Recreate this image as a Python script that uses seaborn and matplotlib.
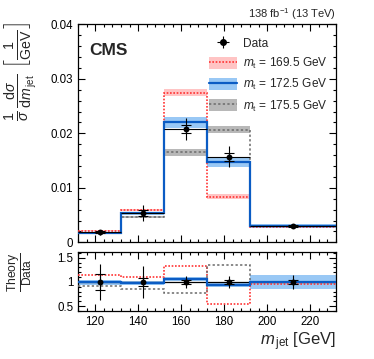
import numpy as np
import pandas as pd
import matplotlib
matplotlib.use("Agg")
import matplotlib.pyplot as plt
from matplotlib.patches import Patch
from matplotlib.lines import Line2D
from matplotlib.ticker import MultipleLocator
import seaborn as sns

# ---------------- data ----------------
edges = [112, 132, 152, 172, 192, 232]
data_vals = [0.00185, 0.0054, 0.0208, 0.0157, 0.0030]
data_err_tot = [0.0005, 0.0015, 0.0020, 0.0019, 0.0004]
data_err_stat = [0.0002, 0.0005, 0.0008, 0.0007, 0.0001]

mt169 = [0.0021, 0.0059, 0.0275, 0.0084, 0.0029]
mt169_unc = [0.0001, 0.0002, 0.0006, 0.0005, 0.0001]
mt172 = [0.0018, 0.0053, 0.0220, 0.0147, 0.0030]
mt172_unc = [0.0001, 0.0003, 0.0010, 0.0008, 0.0004]
mt175 = [0.0017, 0.0047, 0.0165, 0.0207, 0.0030]
mt175_unc = [0.0001, 0.0002, 0.0006, 0.0007, 0.0002]

ratio169 = [1.15, 1.11, 1.34, 0.55, 0.96]
ratio172 = [0.99, 0.97, 1.06, 0.945, 1.00]
ratio172_unc = [0.05, 0.04, 0.05, 0.05, 0.14]
ratio175 = [0.92, 0.86, 0.78, 1.36, 0.995]
ratio_data = [1.0, 1.0, 1.0, 1.0, 1.0]
ratio_err_tot = [0.37, 0.33, 0.12, 0.13, 0.14]
ratio_err_stat = [0.16, 0.09, 0.04, 0.04, 0.04]

labels = ["Data", r"$m_\mathrm{t}$ = 169.5 GeV", r"$m_\mathrm{t}$ = 172.5 GeV",
          r"$m_\mathrm{t}$ = 175.5 GeV"]

# ---------------- style ----------------
sns.set_theme(style="ticks")
plt.rcParams['font.family'] = ['Liberation Sans', 'DejaVu Sans']
plt.rcParams['mathtext.fontset'] = 'custom'
plt.rcParams['mathtext.rm'] = 'Liberation Sans'
plt.rcParams['mathtext.it'] = 'Liberation Sans:italic'
plt.rcParams['mathtext.bf'] = 'Liberation Sans:bold'
plt.rcParams['axes.linewidth'] = 0.9

RED, RED_B = '#ff3333', '#ffc4c4'
BLUE, BLUE_B = '#0b5cc4', '#99c8f5'
GRAY, GRAY_B = '#6a6a6a', '#b8b8b8'

edges_a = np.array(edges, dtype=float)
centers = 0.5 * (edges_a[:-1] + edges_a[1:])
halfw = 0.5 * np.diff(edges_a)

fig = plt.figure(figsize=(3.74, 3.59), dpi=100)
ax = fig.add_axes([0.2086, 0.325, 0.6898, 0.607])
rax = fig.add_axes([0.2086, 0.134, 0.6898, 0.164], sharex=ax)


def band(a, vals, unc, color):
    v = np.array(vals); u = np.array(unc)
    a.stairs(v + u, edges_a, baseline=v - u, fill=True, color=color, lw=0, zorder=1)


# main panel bands
band(ax, mt169, mt169_unc, RED_B)
band(ax, mt175, mt175_unc, GRAY_B)
band(ax, mt172, mt172_unc, BLUE_B)
ax.stairs(mt169, edges_a, baseline=None, color=RED, lw=1.2, ls=(0, (1, 1)), zorder=3)
ax.stairs(mt175, edges_a, baseline=None, color=GRAY, lw=1.1, ls=(0, (1.5, 1.5)), zorder=3)
ax.stairs(mt172, edges_a, baseline=None, color=BLUE, lw=1.6, zorder=4)

# data
df = pd.DataFrame({'x': centers, 'y': data_vals})
ax.errorbar(centers, data_vals, yerr=data_err_tot, xerr=halfw, fmt='none',
            ecolor='black', elinewidth=0.8, zorder=5)
ax.errorbar(centers, data_vals, yerr=data_err_stat, fmt='none', ecolor='black',
            elinewidth=0.8, capsize=3.5, capthick=0.8, zorder=5)
sns.scatterplot(data=df, x='x', y='y', ax=ax, color='black', s=18, zorder=6,
                edgecolor='black', linewidth=0, legend=False)

ax.set_xlim(edges[0], edges[-1])
ax.set_ylim(0, 0.04)
ax.yaxis.set_major_locator(MultipleLocator(0.01))
ax.yaxis.set_minor_locator(MultipleLocator(0.002))
ax.set_yticks([0, 0.01, 0.02, 0.03, 0.04])
ax.set_yticklabels(['0', '0.01', '0.02', '0.03', '0.04'])
ax.tick_params(labelbottom=False)
ax.set_xlabel('')
ax.set_ylabel(r'$\frac{1}{\sigma}\,\frac{\mathrm{d}\sigma}{\mathrm{d}m_{\,\mathrm{jet}}}\;\left[\frac{1}{\mathrm{GeV}}\right]$',
              fontsize=14.5, loc='top')

# legend
h_data = ax.errorbar([], [], yerr=[], xerr=[], fmt='o', color='black', ms=4,
                     elinewidth=0.8)
h169 = (Patch(facecolor=RED_B, lw=0), Line2D([], [], color=RED, lw=1.2, ls=(0, (1, 1))))
h172 = (Patch(facecolor=BLUE_B, lw=0), Line2D([], [], color=BLUE, lw=1.6))
h175 = (Patch(facecolor=GRAY_B, lw=0), Line2D([], [], color=GRAY, lw=1.1, ls=(0, (1.5, 1.5))))
ax.legend([h_data, h169, h172, h175], labels, loc='upper right',
          bbox_to_anchor=(1.0, 0.98), frameon=False, fontsize=8.6,
          handlelength=2.3, handleheight=1.2, labelspacing=0.5, handletextpad=0.5,
          borderaxespad=0.3)

ax.text(0.045, 0.915, 'CMS', transform=ax.transAxes, fontsize=12.5,
        fontweight='bold', va='top', ha='left')
ax.text(1.0, 1.012, r'138 fb$^{-1}$ (13 TeV)', transform=ax.transAxes,
        fontsize=8, ha='right', va='bottom')

# ratio panel
rax.stairs(np.array(ratio172) + np.array(ratio172_unc), edges_a,
           baseline=np.array(ratio172) - np.array(ratio172_unc), fill=True,
           color=BLUE_B, lw=0, zorder=1)
rax.axhline(1.0, color='black', lw=0.9, zorder=2)
rax.stairs(ratio169, edges_a, baseline=None, color=RED, lw=1.2, ls=(0, (1, 1)), zorder=3)
rax.stairs(ratio175, edges_a, baseline=None, color=GRAY, lw=1.1, ls=(0, (1.5, 1.5)), zorder=3)
rax.stairs(ratio172, edges_a, baseline=None, color=BLUE, lw=1.6, zorder=4)
rax.errorbar(centers, ratio_data, yerr=ratio_err_tot, fmt='none', ecolor='black',
             elinewidth=0.8, zorder=5)
rax.errorbar(centers, ratio_data, yerr=ratio_err_stat, fmt='none', ecolor='black',
             elinewidth=0.8, capsize=3.5, capthick=0.8, zorder=5)
rdf = pd.DataFrame({'x': centers, 'y': ratio_data})
sns.scatterplot(data=rdf, x='x', y='y', ax=rax, color='black', s=18, zorder=6,
                linewidth=0, legend=False)

rax.set_ylim(0.4, 1.62)
rax.set_yticks([0.5, 1.0, 1.5])
rax.set_yticklabels(['0.5', '1', '1.5'])
rax.yaxis.set_minor_locator(MultipleLocator(0.1))
rax.xaxis.set_major_locator(MultipleLocator(20))
rax.xaxis.set_minor_locator(MultipleLocator(4))
rax.set_ylabel(r'$\frac{\mathrm{Theory}}{\mathrm{Data}}$', fontsize=12.5, loc='top')
rax.set_xlabel(r'$m_{\,\mathrm{jet}}$ [GeV]', fontsize=12, loc='right', labelpad=2)

for a in (ax, rax):
    a.tick_params(which='both', direction='in', top=True, right=True,
                  labelsize=8.3, width=0.8, colors='black')
    a.tick_params(which='major', length=5)
    a.tick_params(which='minor', length=2.5)
    for s in a.spines.values():
        s.set_color('black')

ax.yaxis.set_label_coords(-0.15, 1.01)
rax.yaxis.set_label_coords(-0.165, 0.99)

fig.savefig('out.png', dpi=100)
